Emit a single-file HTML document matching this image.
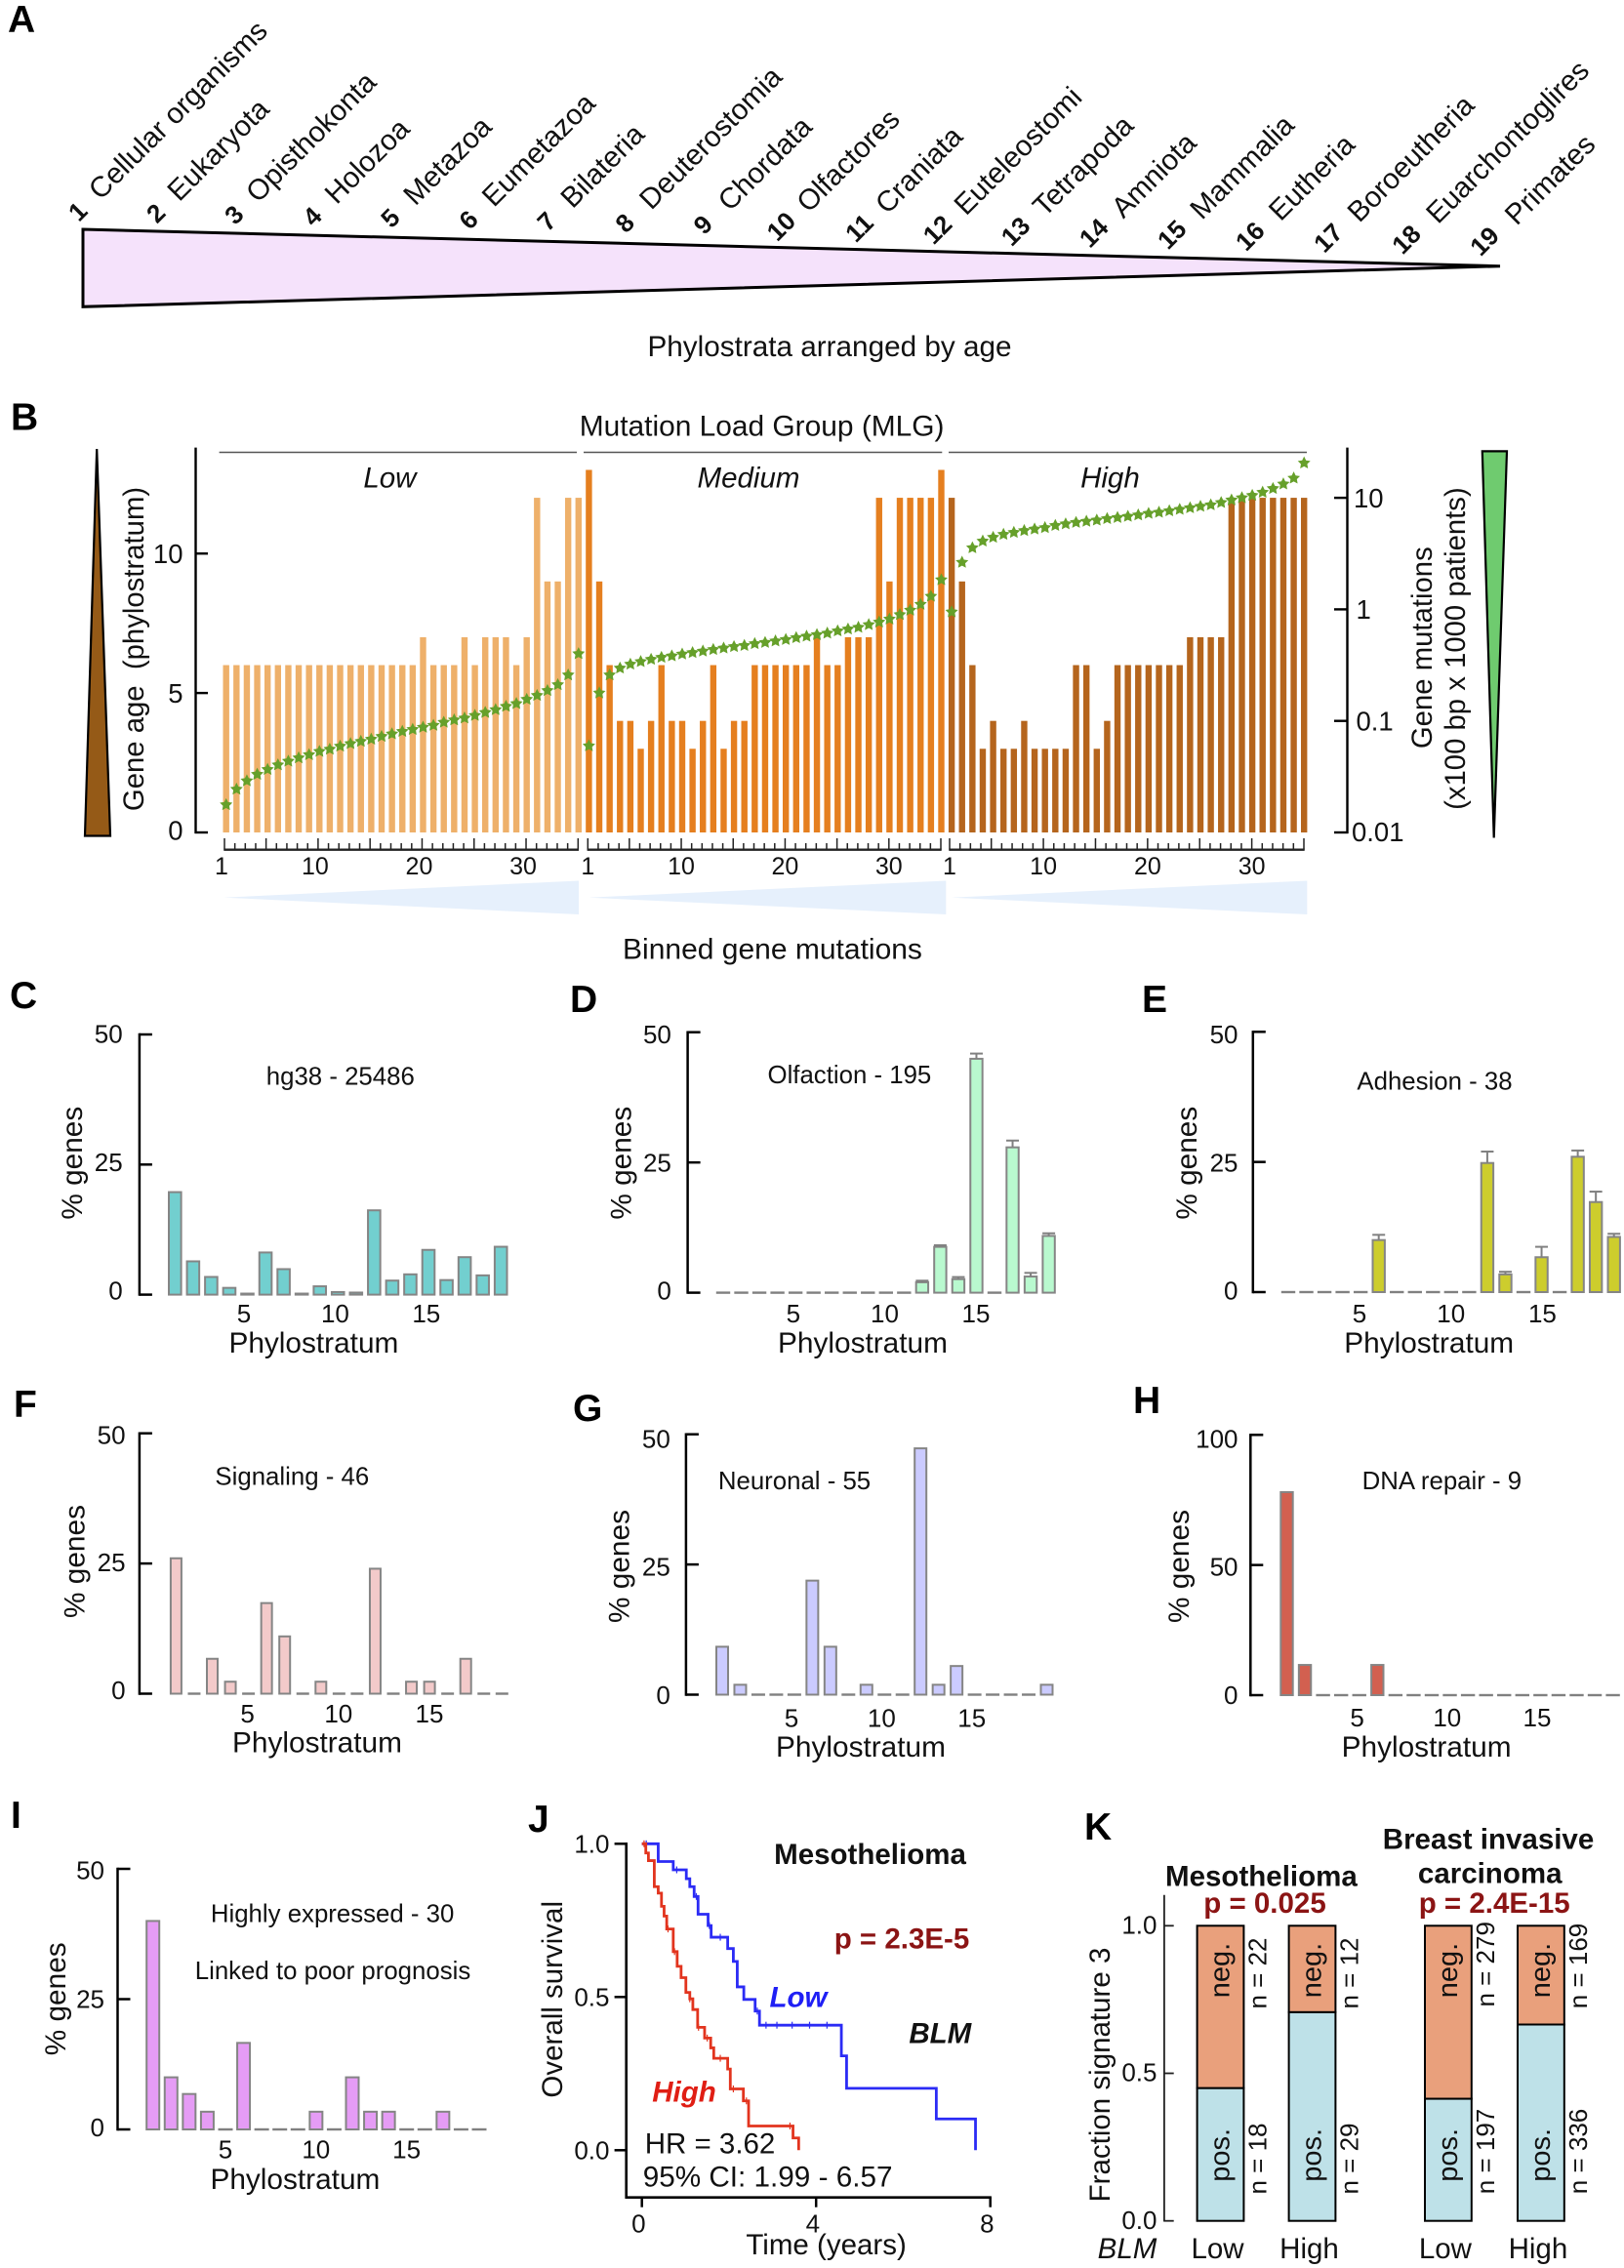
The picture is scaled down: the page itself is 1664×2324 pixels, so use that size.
<!DOCTYPE html>
<html lang="en">
<head>
<meta charset="utf-8">
<title>Phylostrata and BLM figure</title>
<style>
html,body{margin:0;padding:0;background:#fff;}
svg{display:block;font-family:"Liberation Sans",sans-serif;fill:#111;}
</style>
</head>
<body>
<svg id="figure" xmlns="http://www.w3.org/2000/svg" width="1664" height="2324" viewBox="0 0 1664 2324">
<rect x="0" y="0" width="1664" height="2324" fill="#fff"/>

<!-- Panel letters -->
<g font-weight="700" font-size="39" fill="#000">
<text x="8" y="33">A</text>
<text x="11" y="440.5">B</text>
<text x="10" y="1033">C</text>
<text x="584" y="1037">D</text>
<text x="1170" y="1037">E</text>
<text x="14" y="1452">F</text>
<text x="587" y="1456">G</text>
<text x="1161" y="1448">H</text>
<text x="11" y="1873">I</text>
<text x="541" y="1877">J</text>
<text x="1111" y="1885">K</text>
</g>

<!-- Panel A -->
<g id="panel-a">
<polygon points="85,235 1537,272.7 85,314.3" fill="#F5E2FB" stroke="#000" stroke-width="3"/>
<text x="850" y="365" font-size="29.7" text-anchor="middle">Phylostrata arranged by age</text>
</g>

<!-- Panel B static -->
<g id="panel-b">
<text x="780.6" y="446.7" font-size="29.9" text-anchor="middle">Mutation Load Group (MLG)</text>
<line x1="224.6" x2="591" y1="463.5" y2="463.5" stroke="#555" stroke-width="1.6"/>
<line x1="598" x2="965.3" y1="463.5" y2="463.5" stroke="#555" stroke-width="1.6"/>
<line x1="972" x2="1339" y1="463.5" y2="463.5" stroke="#555" stroke-width="1.6"/>
<text x="399.4" y="499.5" font-size="29.5" font-style="italic" text-anchor="middle">Low</text>
<text x="767" y="499.5" font-size="29.5" font-style="italic" text-anchor="middle">Medium</text>
<text x="1137.4" y="499.5" font-size="29.5" font-style="italic" text-anchor="middle">High</text>
<polygon points="99.2,460 113,856.5 87,856.5" fill="#955A17" stroke="#000" stroke-width="2.2"/>
<polygon points="1518.8,462.4 1544,462.4 1530.7,858.5" fill="#6FCB6F" stroke="#000" stroke-width="2.2"/>
<text transform="translate(147,665) rotate(-90)" font-size="29.3" text-anchor="middle" xml:space="preserve">Gene age  (phylostratum)</text>
<text transform="translate(1466.8,663.7) rotate(-90)" font-size="29.3" text-anchor="middle">Gene mutations</text>
<text transform="translate(1501,664.6) rotate(-90)" font-size="29.3" text-anchor="middle">(x100 bp x 1000 patients)</text>
<polygon points="229.3,919.7 593,902.5 593,937" fill="#E6F0FC"/>
<polygon points="603.5,919.7 969.3,902.5 969.3,937" fill="#E6F0FC"/>
<polygon points="975,919.7 1339.3,902.5 1339.3,937" fill="#E6F0FC"/>
<text x="791.5" y="982.5" font-size="30" text-anchor="middle">Binned gene mutations</text>
</g>

<!-- Panels C-I titles -->
<g font-size="29.8" text-anchor="middle">
<text x="321.4" y="1386">Phylostratum</text>
<text transform="translate(84,1191.7) rotate(-90)">% genes</text>
<text x="348.8" y="1111.7" font-size="25.8">hg38 - 25486</text>
<text x="884" y="1386">Phylostratum</text>
<text transform="translate(646.4,1191.7) rotate(-90)">% genes</text>
<text x="870.4" y="1110" font-size="25.8">Olfaction - 195</text>
<text x="1464.2" y="1386">Phylostratum</text>
<text transform="translate(1225.8,1191.7) rotate(-90)">% genes</text>
<text x="1470" y="1116.7" font-size="25.8">Adhesion - 38</text>
<text x="325" y="1795.7">Phylostratum</text>
<text transform="translate(86.4,1600) rotate(-90)">% genes</text>
<text x="299.3" y="1521.7" font-size="25.8">Signaling - 46</text>
<text x="882" y="1800">Phylostratum</text>
<text transform="translate(644.3,1605) rotate(-90)">% genes</text>
<text x="814" y="1526" font-size="25.8">Neuronal - 55</text>
<text x="1461.6" y="1800">Phylostratum</text>
<text transform="translate(1218.2,1605) rotate(-90)">% genes</text>
<text x="1477.4" y="1526" font-size="25.8">DNA repair - 9</text>
<text x="302.4" y="2243">Phylostratum</text>
<text transform="translate(67,2048.3) rotate(-90)">% genes</text>
<text x="340.6" y="1969.3" font-size="25.8">Highly expressed - 30</text>
<text x="341" y="2028" font-size="25.8">Linked to poor prognosis</text>
</g>

<!-- Panel J labels -->
<g id="panel-j" font-size="29.5">
<text x="891.5" y="1910" font-weight="700" text-anchor="middle">Mesothelioma</text>
<text x="924" y="1996.7" font-weight="700" fill="#8B1414" text-anchor="middle">p = 2.3E-5</text>
<text x="963.3" y="2093.3" font-weight="700" font-style="italic" text-anchor="middle">BLM</text>
<text x="818" y="2056.7" font-weight="700" font-style="italic" fill="#1F1FF5" text-anchor="middle">Low</text>
<text x="701" y="2153.3" font-weight="700" font-style="italic" fill="#E01E14" text-anchor="middle">High</text>
<text x="660.7" y="2206.7">HR = 3.62</text>
<text x="658.7" y="2240.7" font-size="29.7">95% CI: 1.99 - 6.57</text>
<text x="846.6" y="2310" text-anchor="middle">Time (years)</text>
<text transform="translate(576,2048.8) rotate(-90)" text-anchor="middle">Overall survival</text>
</g>

<!-- Panel K labels -->
<g id="panel-k" font-size="29.5">
<text x="1292.4" y="1932.3" font-weight="700" text-anchor="middle">Mesothelioma</text>
<text x="1296" y="1960" font-weight="700" fill="#8B1414" text-anchor="middle">p = 0.025</text>
<text x="1525" y="1894.3" font-weight="700" text-anchor="middle">Breast invasive</text>
<text x="1526.7" y="1929.3" font-weight="700" text-anchor="middle">carcinoma</text>
<text x="1531.2" y="1960" font-weight="700" fill="#8B1414" text-anchor="middle">p = 2.4E-15</text>
<text transform="translate(1137,2126) rotate(-90)" text-anchor="middle">Fraction signature 3</text>
<text x="1155" y="2314" font-style="italic" text-anchor="middle">BLM</text>
</g>

<g id="marks"></g>
</svg>

<script>
/* ---------- Panel A data ---------- */
const phylostrataNames = ["Cellular organisms","Eukaryota","Opisthokonta","Holozoa","Metazoa","Eumetazoa","Bilateria","Deuterostomia","Chordata","Olfactores","Craniata","Euteleostomi","Tetrapoda","Amniota","Mammalia","Eutheria","Boroeutheria","Euarchontoglires","Primates"];

/* ---------- Panel B data ---------- */
const geneAgeLow = [6,6,6,6,6,6,6,6,6,6,6,6,6,6,6,6,6,6,6,7,6,6,6,7,6,7,7,7,6,7,12,9,9,12,12];
const geneAgeMedium = [13,9,6,4,4,3,4,6,4,4,3,4,6,3,4,4,6,6,6,6,6,6,7,6,6,7,7,7,12,9,12,12,12,12,13];
const geneAgeHigh = [12,9,6,3,4,3,3,4,3,3,3,3,6,6,3,4,6,6,6,6,6,6,6,7,7,7,7,12,12,12,12,12,12,12,12];
const mutationsLow = [0.0177,0.0244,0.029,0.0332,0.0367,0.0403,0.0435,0.0466,0.0497,0.0532,0.0557,0.0593,0.0625,0.0655,0.0685,0.0725,0.0764,0.0805,0.0838,0.0877,0.0912,0.0971,0.102,0.106,0.112,0.119,0.126,0.135,0.143,0.156,0.169,0.187,0.211,0.258,0.4];
const mutationsMedium = [0.0597,0.178,0.258,0.297,0.322,0.34,0.356,0.371,0.382,0.397,0.409,0.422,0.436,0.449,0.463,0.474,0.492,0.504,0.52,0.536,0.557,0.574,0.593,0.611,0.64,0.665,0.69,0.729,0.769,0.818,0.897,0.984,1.11,1.31,1.84];
const mutationsHigh = [0.948,2.64,3.56,4.09,4.42,4.7,4.89,5.08,5.24,5.4,5.65,5.83,6.01,6.15,6.3,6.5,6.65,6.81,7.01,7.24,7.41,7.64,7.87,8.13,8.38,8.63,9.06,9.55,10,10.5,11.2,12.1,13.3,15,20.5];
const geneAgeTicks = [0,5,10];
const mutationTicks = [0.01,0.1,1,10];
const binTickLabels = [1,10,20,30];

/* ---------- Panels C-I data ---------- */
const phylostratumTickLabels = [5,10,15];
const hg38Values = [19.7,6.4,3.4,1.3,0.2,8.1,4.9,0.2,1.6,0.5,0.4,16.2,2.7,3.9,8.6,2.8,7.2,3.7,9.2];
const olfactionValues = [0,0,0,0,0,0,0,0,0,0,0,2.0,8.8,2.6,44.9,0,27.9,3.1,10.9];
const olfactionErrors = [0,0,0,0,0,0,0,0,0,0,0,0.3,0.3,0.4,1.0,0,1.3,0.7,0.5];
const adhesionValues = [0,0,0,0,0,10,0,0,0,0,0,24.8,3.4,0,6.7,0,26,17.3,10.6];
const adhesionErrors = [0,0,0,0,0,1,0,0,0,0,0,2.2,0.5,0,2,0,1.2,2,0.6];
const signalingValues = [26,0,6.7,2.3,0,17.4,11,0,2.3,0,0,24,0,2.3,2.3,0,6.7,0,0];
const neuronalValues = [9.2,1.9,0,0,0,21.9,9.2,0,1.9,0,0,47.3,1.9,5.5,0,0,0,0,1.9];
const dnaRepairValues = [78,11.6,0,0,0,11.6,0,0,0,0,0,0,0,0,0,0,0,0,0];
const prognosisValues = [40,10,6.8,3.4,0,16.6,0,0,0,3.4,0,10,3.4,3.4,0,0,3.4,0,0];

/* ---------- Panel J data ---------- */
const lowTimes = [0,0.375,0.72,1.02,1.1,1.2,1.29,1.52,1.59,1.97,2.1,2.19,2.34,2.6,2.7,4.58,4.7,6.76,7.66];
const lowSurvival = [1,0.942,0.915,0.886,0.86,0.828,0.77,0.733,0.695,0.658,0.616,0.533,0.492,0.454,0.408,0.308,0.202,0.102,0];
const lowCensored = [0.1,0.8,1.25,1.55,1.8,2.65,2.85,3.1,3.45,3.85,4.25];
const highTimes = [0,0.09,0.15,0.285,0.375,0.45,0.51,0.57,0.72,0.81,0.9,1.01,1.1,1.17,1.28,1.44,1.58,1.65,1.97,2.03,2.33,2.45,3.47,3.6];
const highSurvival = [1,0.97,0.945,0.86,0.839,0.796,0.764,0.722,0.648,0.6,0.563,0.515,0.494,0.459,0.401,0.366,0.334,0.3,0.265,0.2,0.161,0.079,0.04,0];
const highCensored = [0.05,0.6,0.75,1.1,1.3,1.5,1.8,2.1,2.4,3.4];
const survivalTicks = [0,0.5,1];
const timeTicks = [0,4,8];

/* ---------- Panel K data ---------- */
const signatureGroups = ["Low","High","Low","High"];
const signaturePositive = [18,29,197,336];
const signatureNegative = [22,12,279,169];
const fractionTicks = [0,0.5,1];

/* ---------- Drawing ---------- */
const NS = 'http://www.w3.org/2000/svg';
const marks = document.getElementById('marks');
function linear(d0, d1, r0, r1) { return v => r0 + (v - d0) * (r1 - r0) / (d1 - d0); }
function node(tag, parent, props) {
  const el = document.createElementNS(NS, tag);
  for (const k in props) el.setAttribute(k, props[k]);
  parent.appendChild(el);
  return el;
}
function line(parent, x1, y1, x2, y2, stroke, width) {
  return node('line', parent, {x1: x1, y1: y1, x2: x2, y2: y2, stroke: stroke, 'stroke-width': width});
}
function label(parent, str, x, y, size, anchor) {
  const t = node('text', parent, {x: x, y: y, 'font-size': size, 'text-anchor': anchor});
  t.textContent = str;
  return t;
}

/* Panel A labels */
(function () {
  const g = document.getElementById('panel-a');
  const numX = linear(0, 18, 79.6, 1521), numY = linear(0, 18, 216.7, 247);
  const nameX = linear(0, 18, 103, 1554), nameY = linear(0, 18, 206, 232);
  phylostrataNames.forEach((name, i) => {
    const n = node('text', g, {'font-size': 26, 'font-weight': 700, 'text-anchor': 'middle', 'dominant-baseline': 'central', transform: 'translate(' + numX(i) + ',' + numY(i) + ') rotate(-45)'});
    n.textContent = String(i + 1);
    
    
    const t = node('text', g, {'font-size': 29.5, transform: 'translate(' + nameX(i) + ',' + nameY(i) + ') rotate(-45)'});
    t.textContent = name;
    
    
  });
})();

/* Panel B */
(function () {
  const g = document.getElementById('panel-b');
  const yAge = linear(0, 13, 853, 481.5);
  const yMut = v => 853 - (Math.log10(v) + 2) * 114.3;
  const binX = linear(0, 104, 231.7, 1336.2);
  const groups = [
    {key: 'low', ages: geneAgeLow, muts: mutationsLow, color: '#EEB06A', start: 0, tick0: 230, tick1: 592.3, labelDx: -3},
    {key: 'medium', ages: geneAgeMedium, muts: mutationsMedium, color: '#E57F1F', start: 35, tick0: 602.3, tick1: 964, labelDx: 0},
    {key: 'high', ages: geneAgeHigh, muts: mutationsHigh, color: '#B5651D', start: 70, tick0: 973, tick1: 1336, labelDx: 0}
  ];
  const barW = 6.4;
  groups.forEach(gr => {
    gr.ages.forEach((v, i) => {
      const x = binX(gr.start + i);
      const bar = node('rect', g, {x: x - barW / 2, y: yAge(v), width: barW, height: yAge(0) - yAge(v), fill: gr.color});
      
      
    });
    const tickX = linear(0, gr.ages.length - 1, gr.tick0, gr.tick1);
    const axis = line(g, gr.tick0 - 0.7, 870.7, gr.tick1 + 0.7, 870.7, '#222', 2.4);
    
    
    gr.ages.forEach((v, i) => {
      const major = i === 0 || (i + 1) % 5 === 0;
      const tk = line(g, tickX(i), 870.7, tickX(i), major ? 859 : 864, '#222', 1.5);
      
      
    });
    binTickLabels.forEach(v => {
      const t = label(g, v, tickX(v - 1) + gr.labelDx, 896, 25, 'middle');
      
      
    });
  });
  /* left axis */
  const leftAxis = line(g, 200.5, 458.6, 200.5, 854, '#000', 2.4);
  
  
  geneAgeTicks.forEach(v => {
    const tk = line(g, 199.5, yAge(v), 213, yAge(v), '#000', 2.4);
    
    
    const t = label(g, v, 187.5, yAge(v) + (v === 0 ? 7.6 : v === 5 ? 10 : 9.6), 27.5, 'end');
    
    
  });
  /* right axis */
  const rightAxis = line(g, 1380.5, 458.6, 1380.5, 854, '#000', 2.4);
  
  
  mutationTicks.forEach(v => {
    const tk = line(g, 1367, yMut(v), 1381.5, yMut(v), '#000', 2.4);
    
    
    const t = label(g, v, v === 0.01 ? 1385 : v === 10 ? 1387 : 1389.5, yMut(v) + (v === 0.01 ? 9 : 9.8), 27.5, 'start');
    
    
  });
  /* stars */
  function starPoints(cx, cy, R) {
    const pts = [];
    for (let k = 0; k < 10; k++) {
      const r = k % 2 ? R * 0.5 : R;
      const a = -Math.PI / 2 + k * Math.PI / 5;
      pts.push((cx + r * Math.cos(a)).toFixed(2) + ',' + (cy + r * Math.sin(a)).toFixed(2));
    }
    return pts.join(' ');
  }
  groups.forEach(gr => {
    gr.muts.forEach((v, i) => {
      const st = node('polygon', g, {points: starPoints(binX(gr.start + i), yMut(v), 6.8), fill: '#66A02A'});
      
      
    });
  });
})();

/* Panels C-I */
function drawBars(c) {
  const g = node('g', marks, {});
  
  
  const y = linear(0, c.max, c.y0, c.yTop);
  const x = linear(1, 19, c.x1, c.x19);
  const labelY = linear(0, c.max, c.label0, c.labelTop);
  const tickLabelX = linear(5, 15, c.xl5, c.xl15);
  const axis = line(g, c.axisX, c.yTop - 1.2, c.axisX, c.y0 + 1.2, '#000', 2.5);
  
  
  [0, c.max / 2, c.max].forEach(v => {
    const tk = line(g, c.axisX, y(v), c.axisX + 13, y(v), '#000', 2.5);
    
    
    const t = label(g, v, c.labelRight, labelY(v), 26, 'end');
    
    
  });
  phylostratumTickLabels.forEach(v => {
    const t = label(g, v, tickLabelX(v), c.xlBase, 26, 'middle');
    
    
  });
  c.values.forEach((v, i) => {
    const cx = x(i + 1);
    if (v <= 0) {
      const d = line(g, cx - c.w / 2 - 1, c.y0, cx + c.w / 2 + 1, c.y0, '#808080', 2.4);
      
      
      return;
    }
    const bar = node('rect', g, {x: cx - c.w / 2, y: y(v), width: c.w, height: y(0) - y(v), fill: c.color, stroke: '#858585', 'stroke-width': 2});
    
    
    if (c.errors && c.errors[i] > 0) {
      const top = y(v + c.errors[i]);
      const stem = line(g, cx, y(v), cx, top, '#808080', 2);
      
      
      const cap = line(g, cx - 6.5, top, cx + 6.5, top, '#808080', 2);
      
      
    }
  });
}
drawBars({key:'c',values:hg38Values,color:'#72CFCF',max:50,axisX:142.9,yTop:1060,y0:1326.6,x1:179.3,x19:513.2,w:12.6,labelRight:125.7,labelTop:1068.3,label0:1331.7,xl5:250,xl15:436.8,xlBase:1355});
drawBars({key:'d',values:olfactionValues,errors:olfactionErrors,color:'#B9F9CF',max:50,axisX:704.6,yTop:1057.7,y0:1324.6,x1:741,x19:1074.6,w:12.4,labelRight:687.9,labelTop:1069,label0:1331.7,xl5:812.9,xl15:1000,xlBase:1355});
drawBars({key:'e',values:adhesionValues,errors:adhesionErrors,color:'#CDCD2D',max:50,axisX:1283.8,yTop:1057.3,y0:1324,x1:1320,x19:1653.7,w:12.4,labelRight:1268.5,labelTop:1069,label0:1331.7,xl5:1393,xl15:1580.4,xlBase:1355});
drawBars({key:'f',values:signalingValues,color:'#F3CACA',max:50,axisX:142.9,yTop:1468.7,y0:1735.5,x1:180.4,x19:514.3,w:11,labelRight:128.6,labelTop:1479.3,label0:1741,xl5:253.6,xl15:440,xlBase:1765});
drawBars({key:'g',values:neuronalValues,color:'#CBCBFF',max:50,axisX:702.9,yTop:1469.7,y0:1736.5,x1:740,x19:1072.5,w:12,labelRight:686.8,labelTop:1483.3,label0:1746,xl5:811,xl15:995.7,xlBase:1769.3});
drawBars({key:'h',values:dnaRepairValues,color:'#D26050',max:100,axisX:1281.3,yTop:1470.3,y0:1737,x1:1318.5,x19:1652.6,w:12.4,labelRight:1268.5,labelTop:1483.3,label0:1746,xl5:1390.6,xl15:1575,xlBase:1769});
drawBars({key:'i',values:prognosisValues,color:'#E59CF5',max:50,axisX:120.5,yTop:1915,y0:2182,x1:156.7,x19:491,w:13,labelRight:107,labelTop:1925.7,label0:2189,xl5:231,xl15:416.6,xlBase:2211.7});

/* Panel J */
(function () {
  const g = document.getElementById('panel-j');
  const x = linear(0, 8, 657.7, 1014.7);
  const y = linear(0, 1, 2203.3, 1889.3);
  const yAxis = line(g, 641.7, 1888, 641.7, 2252.9, '#000', 2.6);
  
  
  const xAxis = line(g, 640.5, 2251.7, 1015.9, 2251.7, '#000', 2.6);
  
  
  survivalTicks.forEach(v => {
    const tk = line(g, 629.6, y(v), 642, y(v), '#000', 2.5);
    
    
    const t = label(g, v.toFixed(1), 624.5, y(v) + 9, 26, 'end');
    
    
  });
  timeTicks.forEach(v => {
    const tk = line(g, x(v), 2251.7, x(v), 2261.7, '#000', 2.5);
    
    
    const t = label(g, v, x(v) - 3.3, 2287.7, 26, 'middle');
    
    
  });
  function stepPath(times, surv) {
    let d = 'M' + x(times[0]) + ' ' + y(surv[0]);
    for (let i = 1; i < times.length; i++) d += ' H' + x(times[i]) + ' V' + y(surv[i]);
    return d;
  }
  function survivalAt(t, times, surv) {
    let s = surv[0];
    for (let i = 0; i < times.length; i++) if (times[i] <= t) s = surv[i];
    return s;
  }
  const lowCurve = node('path', g, {d: stepPath(lowTimes, lowSurvival), fill: 'none', stroke: '#2B2BF5', 'stroke-width': 2.8});
  
  
  lowCensored.forEach(t => {
    const s = survivalAt(t, lowTimes, lowSurvival);
    const c = line(g, x(t), y(s) - 3.5, x(t), y(s) + 3.5, '#2B2BF5', 1.2);
    
    
  });
  const highCurve = node('path', g, {d: stepPath(highTimes, highSurvival), fill: 'none', stroke: '#E2341E', 'stroke-width': 2.8});
  
  
  highCensored.forEach(t => {
    const s = survivalAt(t, highTimes, highSurvival);
    const c = line(g, x(t), y(s) - 3.5, x(t), y(s) + 3.5, '#E2341E', 1.2);
    
    
  });
})();

/* Panel K */
(function () {
  const g = document.getElementById('panel-k');
  const y = linear(0, 1, 2275.7, 1973.3);
  const barLeft = [1226.6, 1320.6, 1460, 1555];
  const barWidth = 47.8;
  const axis = line(g, 1192.9, 1941.7, 1192.9, 2276.5, '#222', 1.8);
  
  
  fractionTicks.forEach(v => {
    const tk = line(g, 1192.9, y(v), 1202.7, y(v), '#222', 1.8);
    
    
    const t = label(g, v.toFixed(1), 1185.5, y(v) + 8.2, 26, 'end');
    
    
  });
  signatureGroups.forEach((name, i) => {
    const total = signaturePositive[i] + signatureNegative[i];
    const frac = signaturePositive[i] / total;
    const left = barLeft[i];
    const pos = node('rect', g, {x: left, y: y(frac), width: barWidth, height: y(0) - y(frac), fill: '#BEE1E8', stroke: '#000', 'stroke-width': 2});
    
    
    const neg = node('rect', g, {x: left, y: y(1), width: barWidth, height: y(frac) - y(1), fill: '#E9A07C', stroke: '#000', 'stroke-width': 2});
    
    
    const inner = left + 33;
    const negLabel = node('text', g, {'font-size': 29, 'text-anchor': 'middle', transform: 'translate(' + inner + ',2019) rotate(-90)'});
    negLabel.textContent = 'neg.';
    
    
    const posLabel = node('text', g, {'font-size': 29, 'text-anchor': 'middle', transform: 'translate(' + inner + ',2208.3) rotate(-90)'});
    posLabel.textContent = 'pos.';
    
    
    const outer = left + barWidth + 23.3;
    const big = i >= 2;
    const nNeg = node('text', g, {'font-size': 26, 'text-anchor': 'middle', transform: 'translate(' + outer + ',' + (big ? (i === 2 ? 2012.8 : 2014.5) : 2022) + ') rotate(-90)'});
    nNeg.textContent = 'n = ' + signatureNegative[i];
    
    
    const nPos = node('text', g, {'font-size': 26, 'text-anchor': 'middle', transform: 'translate(' + outer + ',' + (big ? 2204.5 : 2212) + ') rotate(-90)'});
    nPos.textContent = 'n = ' + signaturePositive[i];
    
    
    const grp = label(g, name, left + barWidth / 2 - 3, 2314, 29.5, 'middle');
    
    
  });
})();
</script>
</body>
</html>
